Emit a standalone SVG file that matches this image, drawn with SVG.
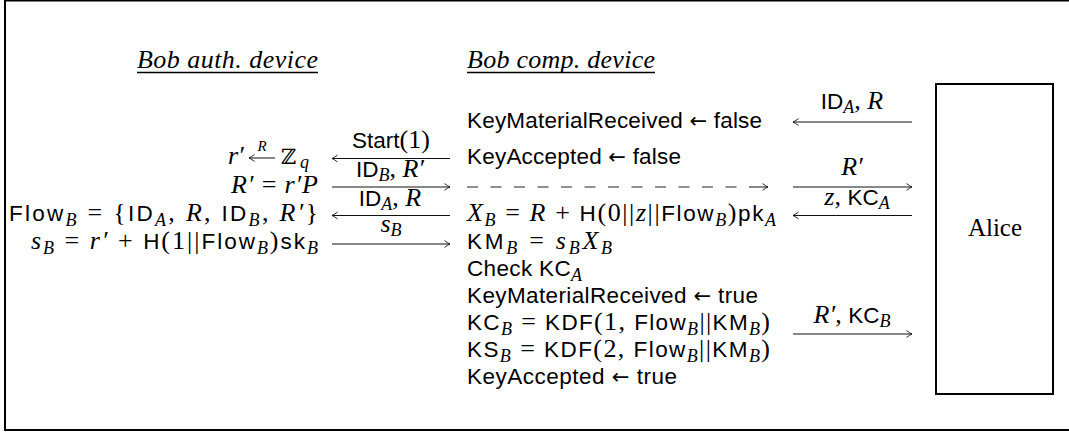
<svg xmlns="http://www.w3.org/2000/svg" width="1069" height="432" viewBox="0 0 1069 432">
<style>
  text { fill: #000; }
  .sf { font-family: "Liberation Sans", Arial, sans-serif; font-size: 22.5px; font-style: normal; }
  .rm { font-family: "Liberation Serif", "Times New Roman", serif; font-size: 26px; font-style: normal; }
  .it { font-family: "Liberation Serif", "Times New Roman", serif; font-size: 26px; font-style: italic; }
  .sb { font-family: "Liberation Serif", "Times New Roman", serif; font-size: 18px; font-style: italic; }
  .ar { font-family: "DejaVu Sans", sans-serif; font-size: 21px; font-style: normal; }
  .hd { font-family: "Liberation Serif", "Times New Roman", serif; font-size: 26px; font-style: italic; }
  .box { fill: none; stroke: #000; stroke-width: 2; }
  .ul { stroke: #000; stroke-width: 1.6; }
  .arr { fill: none; stroke: #111; stroke-width: 1; marker-end: url(#head); }
  .dash { fill: none; stroke: #222; stroke-width: 1.2; stroke-dasharray: 11 12.5; }
</style>
<defs>
  <marker id="head" markerUnits="userSpaceOnUse" markerWidth="10" markerHeight="10" refX="0" refY="0" orient="auto" overflow="visible">
    <path d="M-5.5,-3.4 Q-1.8,-0.7 0,0 Q-1.8,0.7 -5.5,3.4" fill="none" stroke="#111" stroke-width="0.9"/>
  </marker>
</defs>

<!-- outer frame (right side runs past the canvas) -->
<path class="box" d="M1100,0.5 H5 V430 H1100"/>

<g id="auth-device">
  <text class="hd" x="137" y="68" textLength="181">Bob auth. device</text>
  <line class="ul" x1="137" y1="72.5" x2="318" y2="72.5"/>
  <!-- r' sampled at random from Z_q -->
  <text class="it" x="228" y="164">r′</text>
  <line class="arr" x1="275" y1="158" x2="249" y2="158"/>
  <text class="sb" x="262" y="151" text-anchor="middle" style="font-size:15px">R</text>
  <text x="281" y="164" style="font-family:'DejaVu Serif',serif;font-size:21px">ℤ</text>
  <text class="sb" x="300" y="168">q</text>
  <text class="rm" x="318" y="193" text-anchor="end" textLength="87"><tspan class="it">R′</tspan> = <tspan class="it">r′P</tspan></text>
  <text class="rm" x="318" y="221" text-anchor="end" textLength="309"><tspan class="sf">Flow</tspan><tspan class="sb" dy="5">B</tspan><tspan dy="-5"> = {</tspan><tspan class="sf">ID</tspan><tspan class="sb" dy="5">A</tspan><tspan dy="-5">, </tspan><tspan class="it">R</tspan>, <tspan class="sf">ID</tspan><tspan class="sb" dy="5">B</tspan><tspan dy="-5">, </tspan><tspan class="it">R′</tspan>}</text>
  <text class="rm" x="318" y="249" text-anchor="end" textLength="287"><tspan class="it">s</tspan><tspan class="sb" dy="5">B</tspan><tspan dy="-5"> = </tspan><tspan class="it">r′</tspan> + <tspan class="sf">H</tspan>(1||<tspan class="sf">Flow</tspan><tspan class="sb" dy="5">B</tspan><tspan dy="-5">)</tspan><tspan class="sf">sk</tspan><tspan class="sb" dy="5">B</tspan></text>
</g>

<g id="comp-device">
  <text class="hd" x="467" y="68" textLength="188">Bob comp. device</text>
  <line class="ul" x1="467" y1="72.5" x2="655" y2="72.5"/>
  <text class="sf" x="467" y="128" textLength="295">KeyMaterialReceived <tspan class="ar">←</tspan> false</text>
  <text class="sf" x="467" y="164" textLength="214">KeyAccepted <tspan class="ar">←</tspan> false</text>
  <text class="rm" x="467" y="221" textLength="309"><tspan class="it">X</tspan><tspan class="sb" dy="5">B</tspan><tspan dy="-5"> = </tspan><tspan class="it">R</tspan> + <tspan class="sf">H</tspan>(0||<tspan class="it">z</tspan>||<tspan class="sf">Flow</tspan><tspan class="sb" dy="5">B</tspan><tspan dy="-5">)</tspan><tspan class="sf">pk</tspan><tspan class="sb" dy="5">A</tspan></text>
  <text class="rm" x="467" y="249" textLength="145"><tspan class="sf">KM</tspan><tspan class="sb" dy="5">B</tspan><tspan dy="-5"> = </tspan><tspan class="it">s</tspan><tspan class="sb" dy="5">B</tspan><tspan class="it" dy="-5">X</tspan><tspan class="sb" dy="5">B</tspan></text>
  <text class="sf" x="467" y="276" textLength="115">Check KC<tspan class="sb" dy="5">A</tspan></text>
  <text class="sf" x="467" y="303" textLength="291">KeyMaterialReceived <tspan class="ar">←</tspan> true</text>
  <text class="rm" x="467" y="330" textLength="303"><tspan class="sf">KC</tspan><tspan class="sb" dy="5">B</tspan><tspan dy="-5"> = </tspan><tspan class="sf">KDF</tspan>(1, <tspan class="sf">Flow</tspan><tspan class="sb" dy="5">B</tspan><tspan dy="-5">||</tspan><tspan class="sf">KM</tspan><tspan class="sb" dy="5">B</tspan><tspan dy="-5">)</tspan></text>
  <text class="rm" x="467" y="357" textLength="303"><tspan class="sf">KS</tspan><tspan class="sb" dy="5">B</tspan><tspan dy="-5"> = </tspan><tspan class="sf">KDF</tspan>(2, <tspan class="sf">Flow</tspan><tspan class="sb" dy="5">B</tspan><tspan dy="-5">||</tspan><tspan class="sf">KM</tspan><tspan class="sb" dy="5">B</tspan><tspan dy="-5">)</tspan></text>
  <text class="sf" x="467" y="384" textLength="210">KeyAccepted <tspan class="ar">←</tspan> true</text>
</g>

<g id="alice">
  <rect class="box" x="936" y="84" width="117" height="310"/>
  <text class="rm" x="995" y="236" text-anchor="middle" style="font-size:25px">Alice</text>
</g>

<g id="connectors">
  <!-- auth device <-> comp device -->
  <line class="arr" x1="450" y1="158.5" x2="332" y2="158.5"/>
  <text class="sf" x="391" y="148" text-anchor="middle">Start<tspan class="rm">(1)</tspan></text>
  <line class="arr" x1="332" y1="187" x2="450" y2="187"/>
  <text class="sf" x="390" y="177" text-anchor="middle">ID<tspan class="sb" dy="4">B</tspan><tspan class="rm" dy="-4">, </tspan><tspan class="it">R′</tspan></text>
  <line class="arr" x1="450" y1="215.5" x2="332" y2="215.5"/>
  <text class="sf" x="390" y="205.5" text-anchor="middle">ID<tspan class="sb" dy="4">A</tspan><tspan class="rm" dy="-4">, </tspan><tspan class="it">R</tspan></text>
  <line class="arr" x1="332" y1="244" x2="450" y2="244"/>
  <text class="it" x="391" y="232" text-anchor="middle">s<tspan class="sb" dy="4">B</tspan></text>

  <!-- forwarded value inside comp device -->
  <line class="dash" x1="467" y1="187" x2="740" y2="187"/>
  <line class="arr" x1="749" y1="187" x2="768" y2="187"/>

  <!-- comp device <-> Alice -->
  <line class="arr" x1="912" y1="122" x2="793" y2="122"/>
  <text class="sf" x="852" y="108.5" text-anchor="middle">ID<tspan class="sb" dy="4">A</tspan><tspan class="rm" dy="-4">, </tspan><tspan class="it">R</tspan></text>
  <line class="arr" x1="793" y1="187" x2="912" y2="187"/>
  <text class="it" x="852" y="175" text-anchor="middle">R′</text>
  <line class="arr" x1="912" y1="215.5" x2="793" y2="215.5"/>
  <text class="it" x="857" y="205" text-anchor="middle">z<tspan class="rm">, </tspan><tspan class="sf">KC</tspan><tspan class="sb" dy="4">A</tspan></text>
  <line class="arr" x1="793" y1="334" x2="912" y2="334"/>
  <text class="it" x="852" y="323" text-anchor="middle">R′<tspan class="rm">, </tspan><tspan class="sf">KC</tspan><tspan class="sb" dy="4">B</tspan></text>
</g>
</svg>
